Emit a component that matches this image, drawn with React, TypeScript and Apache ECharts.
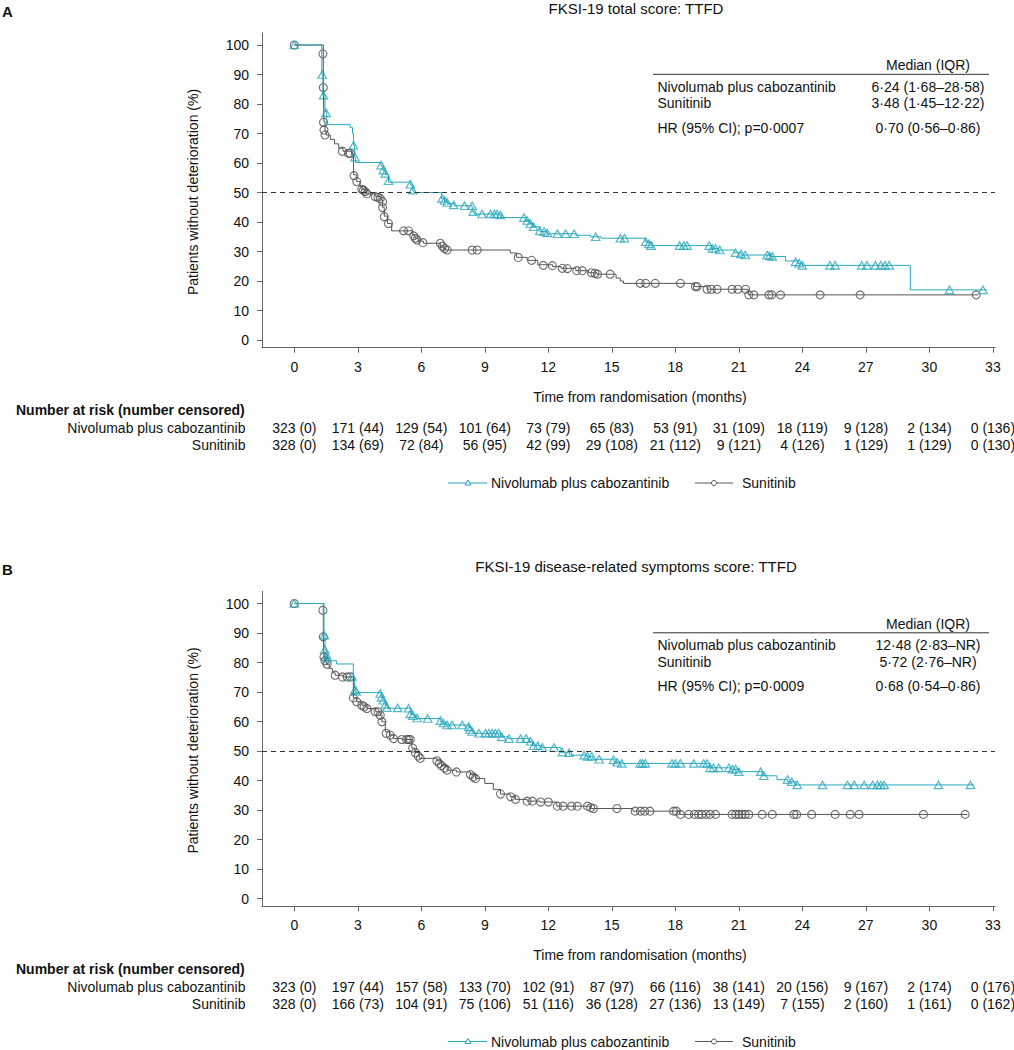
import React, { useEffect, useRef } from "react";
import * as echarts from "echarts";

const TEAL = "#29a7bd";
const GREY = "#555555";
const AX = "#666666";
const FONT = "'Liberation Sans', Arial, Helvetica, sans-serif";

const monthTicks = [0, 3, 6, 9, 12, 15, 18, 21, 24, 27, 30, 33];
const pctTicks = [0, 10, 20, 30, 40, 50, 60, 70, 80, 90, 100];

const titleA = "FKSI-19 total score: TTFD";
const titleB = "FKSI-19 disease-related symptoms score: TTFD";
const armNames = ["Nivolumab plus cabozantinib", "Sunitinib"];

// ---------- Panel A: curves [month, %] (value after each step) ----------
const A_caboCurve = [
  [0, 100], [1.3, 90], [1.35, 83], [1.45, 77.5], [1.53, 73], [2.64, 72], [2.75, 70], [2.8, 66], [2.85, 62],
  [2.9, 60.2], [4.1, 59], [4.2, 57.5], [4.3, 56], [4.45, 53.5], [5.5, 52.5], [5.6, 50.5], [5.65, 50],
  [6.95, 48], [7.1, 47], [7.25, 46.3], [7.55, 45.5], [8.4, 43.5], [8.5, 42.7], [9.8, 41.5], [10.9, 40.5],
  [11.1, 39.5], [11.25, 38.4], [11.6, 36.8], [11.95, 36], [13.3, 35.5], [14.0, 35], [14.5, 34.5],
  [16.6, 33.2], [16.9, 32], [19.7, 31], [20.0, 30.5], [20.8, 29.6], [21.1, 28.8], [22.5, 28.3],
  [23.2, 26.8], [23.8, 26], [24.0, 25.3], [29.1, 17], [32.7, 17],
];
const A_caboCens = [
  [0, 100], [1.32, 90], [1.38, 83], [1.5, 77], [2.8, 66], [2.87, 62], [4.1, 59.3], [4.2, 57.6], [4.3, 56.5],
  [4.45, 54], [5.48, 52.8], [5.59, 50.8], [6.98, 48], [7.1, 47.3], [7.22, 46.6], [7.53, 45.8], [8.04, 45.5],
  [8.4, 45.5], [8.45, 43.5], [8.87, 42.7], [9.27, 42.7], [9.45, 42.7], [9.58, 42.7], [9.74, 42.4],
  [10.85, 41.5], [11.0, 40.5], [11.15, 39.5], [11.3, 38.4], [11.6, 37], [11.8, 36.8], [11.95, 36.3],
  [12.43, 36], [12.82, 36], [13.22, 36], [14.24, 35], [15.4, 34.5], [15.6, 34.5], [16.6, 33.3],
  [16.75, 32.6], [16.85, 32], [18.2, 32], [18.4, 32], [18.55, 32], [19.6, 32], [19.75, 31], [19.9, 31],
  [20.1, 30.5], [20.84, 29.6], [21.1, 29.2], [21.3, 28.8], [22.34, 28.8], [22.45, 28.5], [22.58, 28.3],
  [23.68, 26.5], [23.85, 26], [24.0, 25.3], [25.3, 25.3], [25.55, 25.3], [26.8, 25.3], [27.05, 25.3],
  [27.45, 25.3], [27.7, 25.3], [27.9, 25.3], [28.1, 25.3], [30.95, 17], [32.53, 17],
];
const A_suniCurve = [
  [0, 100], [1.37, 86], [1.4, 74], [1.45, 71], [1.5, 69.5], [1.7, 68], [1.9, 66.5], [2.1, 65], [2.3, 64],
  [2.7, 63], [2.8, 56], [2.95, 53.7], [3.1, 52], [3.2, 51], [3.4, 49.5], [3.85, 48.6], [4.1, 47.5],
  [4.17, 45], [4.25, 42], [4.4, 39.5], [4.6, 37], [5.6, 35.5], [5.7, 34.5], [5.85, 33.5], [6.1, 32.8],
  [6.9, 31.5], [7.1, 30.5], [10.2, 29.5], [10.5, 28], [11.0, 27], [11.5, 25.5], [12.2, 24.9], [12.6, 24.3],
  [13.3, 23.5], [13.9, 22.8], [14.3, 22.3], [15.2, 21], [15.4, 20], [15.55, 19.2], [18.9, 18.1],
  [19.5, 17.2], [21.45, 15.3], [32.3, 15.3],
];
const A_suniCens = [
  [0, 100], [1.35, 97], [1.37, 85.6], [1.38, 73.8], [1.4, 71.2], [1.45, 69.5], [2.27, 64], [2.56, 63.3],
  [2.64, 63.3], [2.82, 55.7], [2.95, 53.7], [3.19, 51.1], [3.27, 50.8], [3.35, 50.3], [3.43, 49.6],
  [3.82, 48.6], [3.95, 48.4], [4.06, 48], [4.17, 46.9], [4.17, 44.9], [4.25, 41.8], [4.45, 39.5],
  [5.16, 37], [5.4, 37], [5.64, 35.3], [5.72, 34.5], [5.8, 33.9], [6.08, 33], [6.9, 32.8], [7.0, 31.8],
  [7.1, 31], [7.22, 30.5], [8.4, 30.5], [8.64, 30.5], [10.58, 28], [11.21, 27], [11.76, 25.3],
  [12.19, 25.2], [12.66, 24.3], [12.9, 24.2], [13.34, 23.5], [13.6, 23.5], [14.04, 22.8], [14.2, 22.6],
  [14.32, 22.3], [14.92, 22.3], [16.34, 19.2], [16.6, 19.2], [17.05, 19.2], [18.24, 19.2], [18.95, 18.1],
  [19.03, 18.1], [19.5, 17.2], [19.7, 17.2], [19.97, 17.2], [20.68, 17.2], [20.95, 17.2], [21.32, 17.2],
  [21.47, 15.3], [21.71, 15.3], [22.42, 15.3], [22.55, 15.3], [22.97, 15.3], [24.84, 15.3], [26.73, 15.3],
  [32.21, 15.3],
];

// ---------- Panel B ----------
const B_caboCurve = [
  [0, 100], [1.4, 89.3], [1.45, 84.4], [1.5, 82.5], [1.53, 80.6], [2.0, 79.5], [2.79, 75], [2.85, 71.2],
  [2.9, 69.8], [4.1, 68.5], [4.2, 67], [4.3, 65.5], [4.4, 64.5], [5.5, 62.5], [5.7, 61.5], [5.8, 61],
  [6.9, 60], [7.0, 59.5], [7.2, 58.8], [8.25, 58], [8.35, 57], [8.45, 56], [9.75, 54.8], [10.1, 54.2],
  [11.1, 53.2], [11.25, 51.8], [11.7, 51.2], [12.6, 49.6], [13.0, 48.6], [13.8, 48.2], [14.1, 47.2],
  [15.1, 46.2], [15.45, 45.8], [19.6, 44.3], [20.6, 43.8], [21.0, 43], [22.1, 41.6], [22.8, 40.3],
  [23.3, 39.6], [23.7, 38.5], [32.1, 38.5],
];
const B_caboCens = [
  [0, 100], [1.42, 89.3], [1.44, 84.4], [1.53, 82.5], [1.55, 81.2], [2.72, 75.3], [2.87, 70.8],
  [2.92, 70.2], [4.06, 69.5], [4.12, 68.2], [4.2, 67.2], [4.3, 65.8], [4.37, 64.7], [4.88, 64.6],
  [5.4, 64.5], [5.48, 62.6], [5.6, 62], [5.8, 61.2], [6.3, 61], [6.9, 60.3], [7.05, 59.5], [7.22, 58.8],
  [7.45, 58.8], [7.93, 58.8], [8.24, 58.2], [8.3, 57.3], [8.4, 56.6], [8.72, 56], [9.03, 56], [9.19, 56],
  [9.35, 56], [9.5, 56], [9.66, 56], [9.8, 54.8], [10.14, 54.2], [10.69, 54.2], [10.95, 54.2],
  [11.16, 53.3], [11.3, 51.8], [11.5, 51.8], [11.72, 51.2], [12.27, 51.2], [12.66, 49.6], [12.98, 49.4],
  [13.69, 48.6], [13.85, 48.2], [14.05, 48.2], [14.4, 47.2], [15.08, 47], [15.25, 46.2], [15.47, 45.8],
  [16.34, 45.8], [16.45, 45.8], [16.58, 45.8], [17.84, 45.8], [18.0, 45.8], [18.24, 45.8], [18.87, 45.8],
  [19.34, 45.8], [19.5, 45.8], [19.65, 44.3], [19.8, 44.3], [20.05, 44.3], [20.53, 44.3], [20.7, 43.8],
  [20.85, 43.8], [21.0, 43], [22.03, 43], [22.18, 41.6], [23.3, 40.3], [23.5, 39.6], [23.76, 38.5],
  [24.95, 38.5], [26.13, 38.5], [26.45, 38.5], [26.92, 38.5], [27.32, 38.5], [27.55, 38.5], [27.71, 38.5],
  [27.87, 38.5], [30.43, 38.5], [31.94, 38.5],
];
const B_suniCurve = [
  [0, 100], [1.37, 88.7], [1.4, 81.9], [1.45, 80.6], [1.53, 79.4], [1.65, 78], [1.8, 76.5], [1.93, 75.7],
  [2.3, 75.1], [2.79, 68], [2.95, 66.7], [3.2, 65.5], [3.43, 64.4], [3.85, 63.3], [4.06, 62.1],
  [4.14, 59.9], [4.3, 56.5], [4.5, 55.4], [4.69, 54.2], [5.1, 53.9], [5.55, 51], [5.7, 49.5], [5.9, 47.5],
  [6.74, 46.7], [6.95, 45], [7.22, 43.5], [7.66, 42.9], [8.32, 42], [8.56, 40.7], [9.0, 39], [9.4, 37],
  [9.74, 35.4], [10.2, 34.5], [10.45, 33.6], [11.0, 33], [11.6, 32.7], [12.4, 31.3], [14.0, 30.5],
  [16.0, 29.6], [18.2, 28.5], [31.8, 28.5],
];
const B_suniCens = [
  [0, 100], [1.35, 97.7], [1.37, 88.7], [1.4, 81.9], [1.45, 80.6], [1.55, 79.4], [1.93, 75.7],
  [2.27, 75.1], [2.5, 75.1], [2.64, 75.1], [2.79, 68], [2.95, 66.7], [3.19, 65.5], [3.3, 65],
  [3.43, 64.4], [3.82, 63.3], [3.95, 63.3], [4.06, 62.1], [4.14, 59.9], [4.34, 56], [4.53, 55.4],
  [4.69, 54.2], [5.08, 53.9], [5.3, 53.9], [5.4, 53.9], [5.48, 53.9], [5.59, 51], [5.72, 49.4],
  [5.85, 48.3], [5.95, 47.5], [6.74, 46.7], [6.85, 45.8], [6.95, 45], [7.1, 44.2], [7.22, 43.5],
  [7.66, 42.9], [8.32, 42], [8.45, 41.2], [8.56, 40.7], [9.74, 35.4], [10.22, 34.5], [10.45, 33.6],
  [11.0, 33], [11.25, 33], [11.64, 32.7], [12.0, 32.7], [12.43, 31.3], [12.7, 31.3], [13.1, 31.3],
  [13.37, 31.3], [13.85, 31.3], [14.0, 30.8], [14.13, 30.5], [15.24, 30.5], [16.1, 29.6], [16.35, 29.6],
  [16.55, 29.6], [16.8, 29.6], [17.92, 29.6], [18.05, 29.6], [18.24, 28.5], [18.63, 28.5], [18.9, 28.5],
  [19.1, 28.5], [19.25, 28.5], [19.45, 28.5], [19.65, 28.5], [19.9, 28.5], [20.68, 28.5], [20.85, 28.5],
  [21.0, 28.5], [21.15, 28.5], [21.3, 28.5], [21.47, 28.5], [22.1, 28.5], [22.58, 28.5], [23.6, 28.5],
  [23.73, 28.5], [24.44, 28.5], [25.55, 28.5], [26.26, 28.5], [26.68, 28.5], [29.72, 28.5], [31.69, 28.5],
];

// ---------- Number at risk (number censored) ----------
const A_caboRisk = [323, 171, 129, 101, 73, 65, 53, 31, 18, 9, 2, 0];
const A_caboCensN = [0, 44, 54, 64, 79, 83, 91, 109, 119, 128, 134, 136];
const A_suniRisk = [328, 134, 72, 56, 42, 29, 21, 9, 4, 1, 1, 0];
const A_suniCensN = [0, 69, 84, 95, 99, 108, 112, 121, 126, 129, 129, 130];
const B_caboRisk = [323, 197, 157, 133, 102, 87, 66, 38, 20, 9, 2, 0];
const B_caboCensN = [0, 44, 58, 70, 91, 97, 116, 141, 156, 167, 174, 176];
const B_suniRisk = [328, 166, 104, 75, 51, 36, 27, 13, 7, 2, 1, 0];
const B_suniCensN = [0, 73, 91, 106, 116, 128, 136, 149, 155, 160, 161, 162];

// ---------- Median table ----------
const medianHeader = "Median (IQR)";
const A_medians = ["6·24 (1·68–28·58)", "3·48 (1·45–12·22)"];
const A_hr = ["HR (95% CI); p=0·0007", "0·70 (0·56–0·86)"];
const B_medians = ["12·48 (2·83–NR)", "5·72 (2·76–NR)"];
const B_hr = ["HR (95% CI); p=0·0009", "0·68 (0·54–0·86)"];

const panels = [
  {
    label: "A", title: titleA, dy: 0,
    caboCurve: A_caboCurve, caboCens: A_caboCens, suniCurve: A_suniCurve, suniCens: A_suniCens,
    caboRisk: A_caboRisk, caboCensN: A_caboCensN, suniRisk: A_suniRisk, suniCensN: A_suniCensN,
    medians: A_medians, hr: A_hr,
  },
  {
    label: "B", title: titleB, dy: 558.5,
    caboCurve: B_caboCurve, caboCens: B_caboCens, suniCurve: B_suniCurve, suniCens: B_suniCens,
    caboRisk: B_caboRisk, caboCensN: B_caboCensN, suniRisk: B_suniRisk, suniCensN: B_suniCensN,
    medians: B_medians, hr: B_hr,
  },
];

function txt(x: number, y: number, text: string, o: any = {}) {
  return {
    type: "text",
    x,
    y,
    silent: true,
    rotation: o.rotation || 0,
    style: {
      text,
      font: `${o.bold ? "bold " : ""}${o.size || 14}px ${FONT}`,
      fill: o.color || "#111",
      textAlign: o.align || "left",
      textVerticalAlign: "middle",
    },
  };
}

export default function App() {
  const ref = useRef<HTMLDivElement>(null);
  useEffect(() => {
    const chart = echarts.init(ref.current!, null, { renderer: "svg" });
    const grids: any[] = [];
    const xAxes: any[] = [];
    const yAxes: any[] = [];
    const series: any[] = [];
    panels.forEach((p, i) => {
      grids.push({ left: 262, top: 33 + p.dy, width: 733, height: 314.7, outerBoundsMode: "none" });
      xAxes.push({
        type: "value", gridIndex: i, min: -1.526, max: 33.1,
        axisLine: { show: true, onZero: false, lineStyle: { color: AX, width: 1 } },
        axisTick: { show: true, length: 5, lineStyle: { color: AX }, customValues: monthTicks },
        axisLabel: { customValues: monthTicks, margin: 12, fontSize: 14, color: "#111", fontFamily: FONT },
        splitLine: { show: false },
      });
      yAxes.push({
        type: "value", gridIndex: i, min: -2.61, max: 104.07,
        axisLine: { show: true, onZero: false, lineStyle: { color: AX, width: 1 } },
        axisTick: { show: true, length: 5, lineStyle: { color: AX }, customValues: pctTicks },
        axisLabel: { customValues: pctTicks, margin: 13, fontSize: 14, color: "#111", fontFamily: FONT },
        splitLine: { show: false },
      });
      series.push({
        type: "line", name: armNames[1], xAxisIndex: i, yAxisIndex: i, data: p.suniCurve, step: "end",
        symbol: "none", silent: true, lineStyle: { color: GREY, width: 1 },
        markLine: {
          silent: true, symbol: ["none", "none"], label: { show: false },
          lineStyle: { color: "#333", type: [5, 4], width: 1.2 },
          data: [{ yAxis: 50 }],
        },
      });
      series.push({
        type: "line", name: armNames[0], xAxisIndex: i, yAxisIndex: i, data: p.caboCurve, step: "end",
        symbol: "none", silent: true, lineStyle: { color: TEAL, width: 1 },
      });
      series.push({
        type: "scatter", xAxisIndex: i, yAxisIndex: i, data: p.suniCens, symbol: "circle", symbolSize: 8,
        silent: true, itemStyle: { color: "rgba(255,255,255,0)", borderColor: "#4a4a4a", borderWidth: 1.1 },
      });
      series.push({
        type: "scatter", xAxisIndex: i, yAxisIndex: i, data: p.caboCens, symbol: "triangle", symbolSize: [8.5, 7.5],
        silent: true, itemStyle: { color: "rgba(255,255,255,0)", borderColor: TEAL, borderWidth: 1.2 },
      });
    });

    chart.setOption({
      animation: false,
      backgroundColor: "#ffffff",
      textStyle: { fontFamily: FONT },
      grid: grids,
      xAxis: xAxes,
      yAxis: yAxes,
      series,
    });

    const g: any[] = [];
    panels.forEach((p, i) => {
      const dy = p.dy;
      const tx = (m: number) => chart.convertToPixel({ xAxisIndex: i }, m) as number;
      g.push(txt(2, 11 + dy, p.label, { bold: true, size: 15 }));
      g.push(txt(636, 8 + dy, p.title, { size: 15, align: "center" }));
      g.push(txt(193, 192 + dy, "Patients without deterioration (%)", { align: "center", rotation: Math.PI / 2 }));
      g.push(txt(640, 396.5 + dy, "Time from randomisation (months)", { align: "center" }));
      // median table
      g.push(txt(928, 65 + dy, medianHeader, { align: "center" }));
      g.push({
        type: "line", silent: true,
        shape: { x1: 653, y1: 74.3 + dy, x2: 989, y2: 74.3 + dy },
        style: { stroke: "#333", lineWidth: 1 },
      });
      g.push(txt(657.5, 86.7 + dy, armNames[0]));
      g.push(txt(928, 86.7 + dy, p.medians[0], { align: "center" }));
      g.push(txt(657.5, 103.3 + dy, armNames[1]));
      g.push(txt(928, 103.3 + dy, p.medians[1], { align: "center" }));
      g.push(txt(657.5, 127.7 + dy, p.hr[0]));
      g.push(txt(928, 127.7 + dy, p.hr[1], { align: "center" }));
      // number at risk
      g.push(txt(16, 410 + dy, "Number at risk (number censored)", { bold: true }));
      g.push(txt(245.5, 428 + dy, armNames[0], { align: "right" }));
      g.push(txt(245.5, 445 + dy, armNames[1], { align: "right" }));
      monthTicks.forEach((m, k) => {
        const x = tx(m);
        g.push(txt(x, 428 + dy, `${p.caboRisk[k]} (${p.caboCensN[k]})`, { align: "center" }));
        g.push(txt(x, 445 + dy, `${p.suniRisk[k]} (${p.suniCensN[k]})`, { align: "center" }));
      });
      // legend
      const ly = 483 + dy;
      g.push({ type: "line", silent: true, shape: { x1: 448, y1: ly, x2: 487, y2: ly }, style: { stroke: TEAL, lineWidth: 1 } });
      g.push({
        type: "polygon", silent: true,
        shape: { points: [[468, ly - 3], [465, ly + 2], [471, ly + 2]] },
        style: { fill: "#fff", stroke: TEAL, lineWidth: 1 },
      });
      g.push(txt(491, ly, armNames[0]));
      g.push({ type: "line", silent: true, shape: { x1: 695, y1: ly, x2: 733, y2: ly }, style: { stroke: GREY, lineWidth: 1 } });
      g.push({
        type: "circle", silent: true, shape: { cx: 714, cy: ly, r: 2.5 },
        style: { fill: "#fff", stroke: GREY, lineWidth: 1 },
      });
      g.push(txt(742, ly, armNames[1]));
    });
    chart.setOption({ graphic: { elements: g } });

    return () => chart.dispose();
  }, []);
  return <div ref={ref} style={{ position: "absolute", left: 0, top: 0, width: 1014, height: 1050 }} />;
}
